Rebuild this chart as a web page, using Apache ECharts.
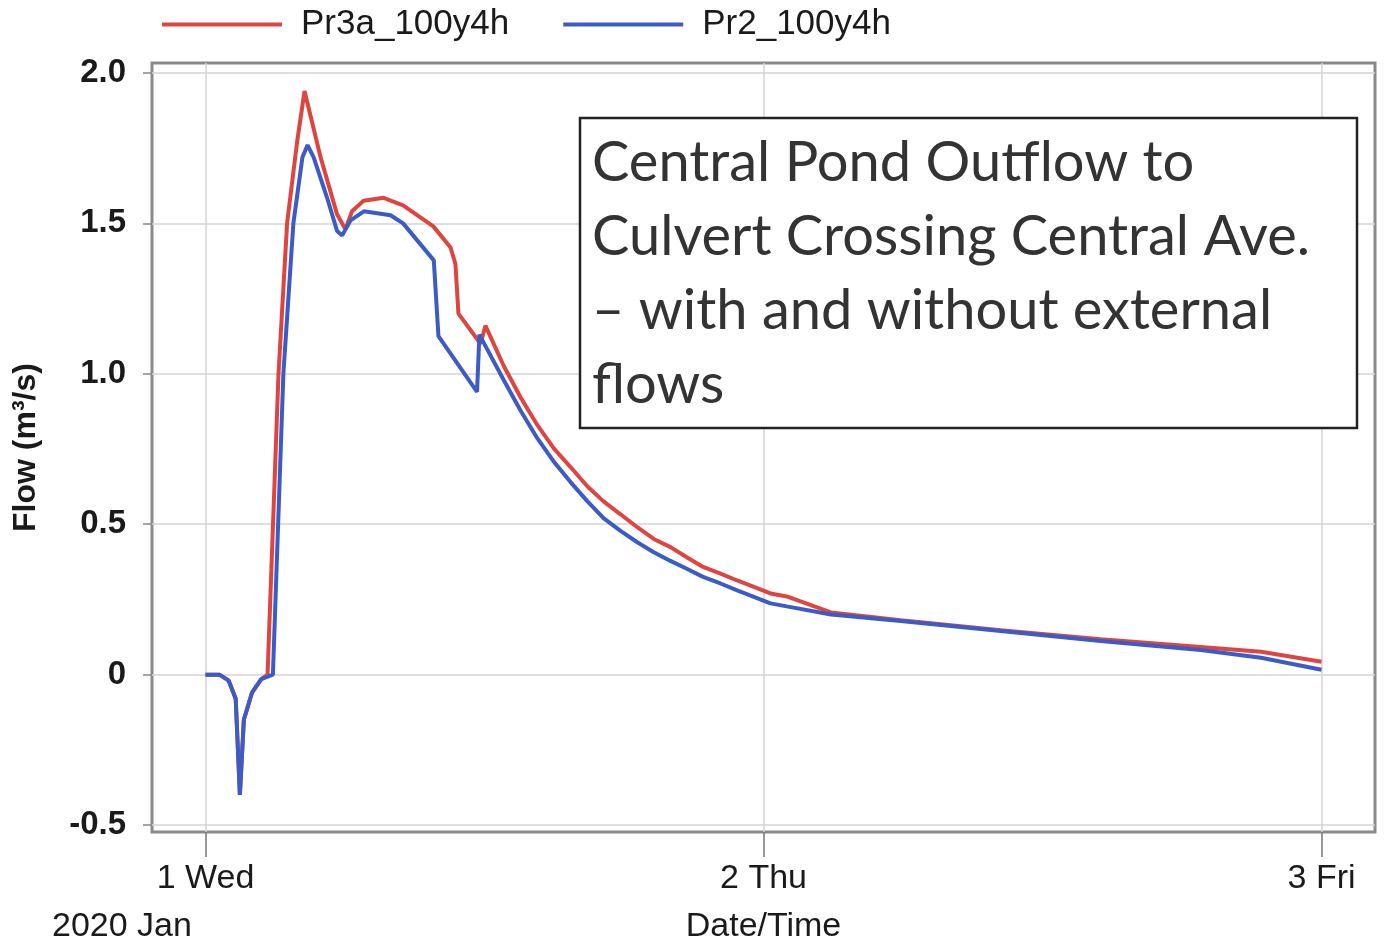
<!DOCTYPE html>
<html>
<head>
<meta charset="utf-8">
<script src="https://cdn.jsdelivr.net/npm/echarts@6/dist/echarts.min.js"></script>
<style>
html,body{margin:0;padding:0;background:#fff;}
#chart{width:1385px;height:949px;}
</style>
</head>
<body>
<div id="chart"></div>
<script>
// Hours since 2020-01-01 00:00
const seriesNames = ['Pr3a_100y4h', 'Pr2_100y4h'];

const pr3aHours = [0, 0.6, 1.0, 1.3, 1.48, 1.65, 2.0, 2.4, 2.67, 3.14, 3.51, 3.94, 4.26, 4.95, 5.66, 6.02, 6.3, 6.8, 7.66, 8.5, 9.8, 10.54, 10.75, 10.88, 11.83, 12.04, 12.83, 13.55, 14.27, 14.98, 15.7, 16.42, 17.12, 17.85, 18.57, 19.28, 20.0, 20.7, 21.4, 22.15, 22.87, 24.3, 25.0, 26.9, 29.9, 34.2, 38.5, 42.8, 45.4, 48.0];
const pr3aFlow  = [0, 0, -0.02, -0.08, -0.40, -0.15, -0.06, -0.015, 0, 1.0, 1.50, 1.77, 1.94, 1.72, 1.53, 1.48, 1.54, 1.575, 1.585, 1.56, 1.49, 1.42, 1.365, 1.20, 1.10, 1.16, 1.026, 0.922, 0.83, 0.752, 0.69, 0.626, 0.576, 0.533, 0.49, 0.451, 0.424, 0.39, 0.358, 0.336, 0.313, 0.27, 0.26, 0.207, 0.181, 0.148, 0.118, 0.092, 0.076, 0.043];

const pr2Hours = [0, 0.6, 1.0, 1.3, 1.48, 1.65, 2.0, 2.4, 2.9, 3.35, 3.78, 4.17, 4.39, 4.65, 5.23, 5.66, 5.88, 6.24, 6.81, 7.96, 8.5, 9.82, 10.02, 11.68, 11.78, 12.82, 13.55, 14.27, 14.98, 15.7, 16.42, 17.12, 17.85, 18.57, 19.28, 20.0, 20.7, 21.4, 22.15, 22.87, 24.3, 25.0, 26.9, 29.9, 34.2, 38.5, 42.8, 45.4, 48.0];
const pr2Flow  = [0, 0, -0.02, -0.08, -0.40, -0.15, -0.06, -0.015, 0, 1.0, 1.5, 1.72, 1.76, 1.72, 1.585, 1.475, 1.46, 1.51, 1.54, 1.527, 1.50, 1.377, 1.125, 0.94, 1.13, 0.98, 0.878, 0.786, 0.708, 0.64, 0.577, 0.52, 0.478, 0.44, 0.407, 0.378, 0.352, 0.325, 0.303, 0.28, 0.237, 0.227, 0.20, 0.178, 0.145, 0.112, 0.082, 0.056, 0.016];

const xTickHours = [0, 24, 48];
const xTickLabels = ['1 Wed', '2 Thu', '3 Fri'];
const yTickValues = [-0.5, 0, 0.5, 1.0, 1.5, 2.0];
const yTickLabels = ['-0.5', '0', '0.5', '1.0', '1.5', '2.0'];

const annotationLines = ['Central Pond Outflow to', 'Culvert Crossing Central Ave.', '\u2013 with and without external', 'flows'];

const zip = (xs, ys) => xs.map((x, i) => [x, ys[i]]);

const chart = echarts.init(document.getElementById('chart'), null, {renderer: 'canvas'});
chart.setOption({
  animation: false,
  backgroundColor: '#fff',
  legend: {
    left: 157, top: 2,
    itemWidth: 120, itemHeight: 4, itemGap: 54,
    icon: 'rect',
    textStyle: {fontFamily: 'Liberation Sans', fontSize: 35, color: '#1a1a1a', padding: [0, 0, 0, 14]},
    data: seriesNames
  },
  grid: {
    left: 152, right: 10, top: 63, bottom: 108,
    show: true, borderColor: '#8a8a8a', borderWidth: 3
  },
  xAxis: {
    type: 'value', min: -2.3, max: 50.3,
    name: 'Date/Time', nameLocation: 'middle', nameGap: 78,
    nameTextStyle: {fontFamily: 'Liberation Sans', fontSize: 34, color: '#1a1a1a'},
    axisLine: {show: false, onZero: false},
    axisTick: {show: true, customValues: xTickHours, length: 25, inside: false, lineStyle: {color: '#777', width: 1.5}},
    axisLabel: {
      customValues: xTickHours, margin: 30,
      fontFamily: 'Liberation Sans', fontSize: 34, color: '#1a1a1a',
      formatter: v => xTickLabels[xTickHours.indexOf(Math.round(v))] || ''
    },
    splitLine: {show: true, lineStyle: {color: '#d4d4d4', width: 1.5}}
  },
  yAxis: {
    type: 'value', min: -0.523, max: 2.033,
    name: 'Flow (m\u00b3/s)', nameLocation: 'middle', nameGap: 110,
    nameTextStyle: {fontFamily: 'Liberation Sans', fontSize: 32, fontWeight: 'bold', color: '#1a1a1a'},
    axisLine: {show: false, onZero: false},
    axisTick: {show: true, customValues: yTickValues, length: 9, lineStyle: {color: '#888', width: 1.5}},
    axisLabel: {
      customValues: yTickValues, margin: 26,
      fontFamily: 'Liberation Sans', fontSize: 33, fontWeight: 'bold', color: '#1a1a1a',
      formatter: v => yTickLabels[yTickValues.findIndex(t => Math.abs(t - v) < 1e-6)] || ''
    },
    splitLine: {show: true, lineStyle: {color: '#d4d4d4', width: 1.5}}
  },
  series: [
    {
      name: seriesNames[0], type: 'line', data: zip(pr3aHours, pr3aFlow),
      showSymbol: false, symbol: 'none',
      lineStyle: {color: '#de4540', width: 4}, itemStyle: {color: '#de4540'}
    },
    {
      name: seriesNames[1], type: 'line', data: zip(pr2Hours, pr2Flow),
      showSymbol: false, symbol: 'none',
      lineStyle: {color: '#3b5cc6', width: 4}, itemStyle: {color: '#3b5cc6'}
    }
  ],
  graphic: [
    {
      type: 'text', left: 52, top: 910,
      style: {text: '2020 Jan', font: '34px "Liberation Sans"', fill: '#1a1a1a'}
    },
    {
      type: 'rect', shape: {x: 580, y: 118, width: 777, height: 310},
      style: {fill: '#fff', stroke: '#222', lineWidth: 2.5}, z: 100
    },
    {
      type: 'text', x: 592, y: 126, z: 101,
      style: {
        text: annotationLines.join('\n'),
        font: '56px Lato', lineHeight: 74, fill: '#333'
      }
    }
  ]
});
</script>
</body>
</html>
